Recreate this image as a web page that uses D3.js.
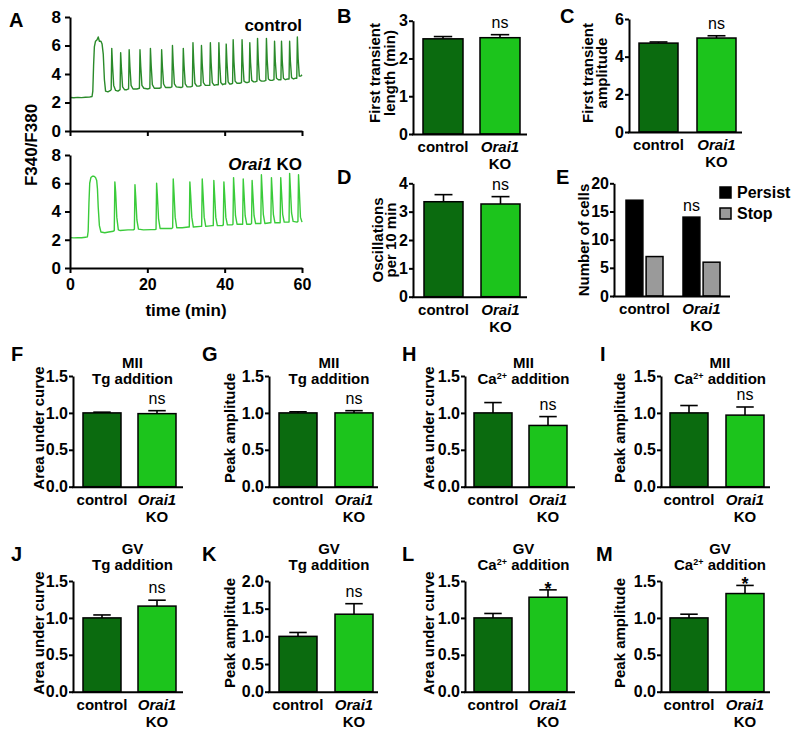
<!DOCTYPE html>
<html><head><meta charset="utf-8">
<script src="https://cdn.jsdelivr.net/npm/d3@7/dist/d3.min.js"></script>
<style>
body{margin:0;background:#fff;}
svg{display:block;font-family:"Liberation Sans",Arial,Helvetica,sans-serif;}
</style></head><body>
<svg id="fig" width="800" height="737"></svg>
<script>
// ---------------- DATA ----------------
const groups = ["control", "Orai1 KO"];
const timeTicks = [0, 20, 40, 60];
const ratioTicks = [0, 2, 4, 6, 8];

const controlTrace = [
[0,2.35],[1,2.33],[2,2.36],[3,2.34],[4,2.37],[5,2.38],[5.7,2.42],[5.9,2.8],[6.1,4.6],[6.3,5.9],[6.6,6.3],[7.0,6.4],[7.3,6.6],[7.6,6.3],[8.0,6.3],[8.3,6.1],[8.6,5.4],[8.9,3.6],[9.2,2.8],[9.8,2.75],[10.5,2.85],
[10.65,2.9],[10.8,5.8],[11.0,4.6],[11.3,3.2],[11.8,2.85],[12.4,2.8],
[12.95,2.9],[13.1,5.5],[13.3,4.4],[13.6,3.1],[14.1,2.9],[14.7,2.9],
[15.15,2.95],[15.3,5.7],[15.5,4.5],[15.8,3.2],[16.3,2.95],[17.3,2.95],
[17.95,3.0],[18.1,5.7],[18.3,4.5],[18.6,3.2],[19.1,3.0],[20.2,2.95],
[20.65,3.0],[20.8,5.8],[21.0,4.6],[21.3,3.25],[21.8,3.0],[23.1,3.0],
[23.55,3.05],[23.7,5.7],[23.9,4.5],[24.2,3.3],[24.7,3.05],[25.9,3.05],
[26.35,3.1],[26.5,6.0],[26.7,4.7],[27.0,3.3],[27.5,3.1],[28.7,3.05],
[29.15,3.1],[29.3,5.8],[29.5,4.6],[29.8,3.3],[30.3,3.1],[31.2,3.1],
[31.65,3.15],[31.8,6.2],[32.0,4.8],[32.3,3.35],[32.8,3.15],[33.4,3.15],
[33.85,3.2],[34.0,6.0],[34.2,4.7],[34.5,3.4],[35.0,3.2],[35.7,3.2],
[36.15,3.2],[36.3,6.2],[36.5,4.8],[36.8,3.4],[37.3,3.2],[37.9,3.25],
[38.35,3.25],[38.5,6.2],[38.7,4.8],[39.0,3.4],[39.5,3.25],[39.9,3.3],
[40.25,3.3],[40.4,6.1],[40.6,4.8],[40.9,3.45],[41.3,3.3],[41.7,3.3],
[42.05,3.35],[42.2,6.4],[42.4,4.9],[42.7,3.5],[43.2,3.35],[43.9,3.35],
[44.35,3.4],[44.5,6.4],[44.7,4.9],[45.0,3.5],[45.5,3.4],[45.9,3.4],
[46.35,3.45],[46.5,6.2],[46.7,4.8],[47.0,3.55],[47.5,3.45],[47.9,3.45],
[48.35,3.5],[48.5,6.5],[48.7,5.0],[49.0,3.6],[49.5,3.5],[50.2,3.5],
[50.65,3.55],[50.8,6.5],[51.0,5.0],[51.3,3.65],[51.8,3.55],[52.3,3.55],
[52.75,3.6],[52.9,6.3],[53.1,4.9],[53.4,3.7],[53.9,3.6],[54.2,3.6],
[54.55,3.6],[54.7,6.3],[54.9,4.9],[55.2,3.7],[55.7,3.6],[56.3,3.65],
[56.65,3.65],[56.8,6.3],[57.0,4.9],[57.3,3.75],[57.8,3.65],[58.2,3.7],
[58.65,3.7],[58.8,6.6],[59.0,5.1],[59.3,3.85],[59.7,3.85],[60,3.95]
];

const koTrace = [
[0,2.15],[1,2.13],[2,2.15],[3,2.14],[4,2.18],[4.5,2.2],[4.7,2.6],[4.9,4.6],[5.1,6.0],[5.4,6.4],[5.8,6.5],[6.2,6.5],[6.6,6.4],[6.9,6.2],[7.1,5.6],[7.3,4.3],[7.6,3.0],[8.0,2.55],[9,2.5],[10,2.55],[11.2,2.6],
[11.45,2.65],[11.6,6.1],[11.8,5.4],[12.1,3.6],[12.5,2.7],[13,2.65],[15,2.7],[16.4,2.7],
[16.65,2.75],[16.8,5.9],[17.0,5.0],[17.3,3.4],[17.7,2.75],[19,2.7],[21,2.72],[22.0,2.72],
[22.25,2.75],[22.4,6.0],[22.6,5.1],[22.9,3.5],[23.3,2.8],[25,2.8],[26.3,2.8],
[26.55,2.85],[26.7,6.3],[26.9,5.3],[27.2,3.6],[27.6,2.85],[29,2.85],[30.6,2.9],
[30.85,2.9],[31.0,6.1],[31.2,5.2],[31.5,3.6],[31.9,2.9],[33.8,2.95],
[34.05,2.95],[34.2,6.3],[34.4,5.3],[34.7,3.6],[35.1,2.95],[36.8,3.0],
[37.05,3.0],[37.2,6.2],[37.4,5.2],[37.7,3.6],[38.1,3.0],[39.4,3.0],
[39.65,3.05],[39.8,6.1],[40.0,5.2],[40.3,3.6],[40.7,3.05],[41.9,3.05],
[42.15,3.1],[42.3,6.4],[42.5,5.4],[42.8,3.7],[43.2,3.1],[44.4,3.1],
[44.65,3.1],[44.8,6.3],[45.0,5.3],[45.3,3.7],[45.7,3.1],[46.7,3.1],
[46.95,3.15],[47.1,6.2],[47.3,5.2],[47.6,3.7],[48.0,3.15],[49.1,3.15],
[49.35,3.15],[49.5,6.6],[49.7,5.5],[50.0,3.8],[50.4,3.15],[51.7,3.2],
[51.95,3.2],[52.1,6.4],[52.3,5.4],[52.6,3.8],[53.0,3.2],[54.1,3.2],
[54.35,3.2],[54.5,6.4],[54.7,5.4],[55.0,3.8],[55.4,3.25],[56.4,3.25],
[56.65,3.25],[56.8,6.7],[57.0,5.6],[57.3,3.9],[57.7,3.3],[58.7,3.25],
[58.95,3.3],[59.1,6.6],[59.3,5.5],[59.6,3.6],[60,3.25]
];

const bMeans = [2.52, 2.55], bErr = [0.06, 0.08], bTicks = [0, 1, 2, 3], bSig = "ns";
const cMeans = [4.72, 4.99], cErr = [0.06, 0.12], cTicks = [0, 2, 4, 6], cSig = "ns";
const dMeans = [3.35, 3.27], dErr = [0.25, 0.26], dTicks = [0, 1, 2, 3, 4], dSig = "ns";
const eSeries = ["Persist", "Stop"];
const ePersist = [17, 14], eStop = [7, 6], eTicks = [0, 5, 10, 15, 20], eSig = "ns";
const fMeans = [1.0, 0.99], fErr = [0.01, 0.04], fSig = "ns";
const gMeans = [1.0, 1.0], gErr = [0.015, 0.03], gSig = "ns";
const hMeans = [1.0, 0.83], hErr = [0.14, 0.12], hSig = "ns";
const iMeans = [1.0, 0.97], iErr = [0.10, 0.11], iSig = "ns";
const jMeans = [1.0, 1.16], jErr = [0.04, 0.08], jSig = "ns";
const kMeans = [1.0, 1.40], kErr = [0.07, 0.19], kSig = "ns";
const lMeans = [1.0, 1.28], lErr = [0.06, 0.10], lSig = "*";
const mMeans = [1.0, 1.33], mErr = [0.05, 0.11], mSig = "*";
const ticks15 = [0, 0.5, 1.0, 1.5];
const ticks20 = [0, 0.5, 1.0, 1.5, 2.0];

// ---------------- STYLE ----------------
const barColors = ["#0b6b0f", "#1cc41c"];
const traceColors = ["#2a8a2a", "#3acb3a"];
const eColors = ["#000000", "#9a9a9a"];

const svg = d3.select("#fig");

function styleAxis(sel, size) {
  sel.select(".domain").attr("stroke", "#000").attr("stroke-width", 2);
  sel.selectAll(".tick line").attr("stroke", "#000").attr("stroke-width", 2);
  sel.selectAll(".tick text").attr("fill", "#000").attr("font-size", size || 16).attr("font-weight", "bold");
}

function letter(t, x, y) {
  svg.append("text").attr("x", x).attr("y", y).attr("font-size", 20).attr("font-weight", "bold").text(t);
}

function rotLabel(lines, xs, cy) {
  lines.forEach((l, i) => {
    svg.append("text").attr("transform", `translate(${xs[i]},${cy}) rotate(-90)`)
      .attr("text-anchor", "middle").attr("font-size", 15).attr("font-weight", "bold").text(l);
  });
}

function catLabels(x0, x1, y0) {
  svg.append("text").attr("x", x0).attr("y", y0 + 18).attr("text-anchor", "middle")
    .attr("font-size", 15).attr("font-weight", "bold").text(groups[0]);
  const parts = groups[1].split(" ");
  svg.append("text").attr("x", x1).attr("y", y0 + 18).attr("text-anchor", "middle")
    .attr("font-size", 15).attr("font-weight", "bold").attr("font-style", "italic").text(parts[0]);
  svg.append("text").attr("x", x1).attr("y", y0 + 35).attr("text-anchor", "middle")
    .attr("font-size", 15).attr("font-weight", "bold").text(parts[1]);
}

function titleLines(lines, cx, ys) {
  lines.forEach((l, i) => {
    const t = svg.append("text").attr("x", cx).attr("y", ys[i]).attr("text-anchor", "middle")
      .attr("font-size", 15).attr("font-weight", "bold");
    if (l.startsWith("Ca2+")) {
      t.append("tspan").text("Ca");
      t.append("tspan").attr("font-size", 9).attr("dy", -5).text("2+");
      t.append("tspan").attr("dy", 5).text(" addition");
    } else t.text(l);
  });
}

// ---------------- PANEL A ----------------
(function () {
  const x = d3.scaleLinear().domain([0, 60]).range([70, 302]);
  const subs = [
    { data: controlTrace, y0: 131, yTop: 17, color: traceColors[0], label: ["control"], ly: 31, showLabels: false },
    { data: koTrace, y0: 268, yTop: 155, color: traceColors[1], label: ["Orai1", "KO"], ly: 170, showLabels: true }
  ];
  subs.forEach(s => {
    const y = d3.scaleLinear().domain([0, 8]).range([s.y0, s.yTop]);
    svg.append("path").datum(s.data)
      .attr("d", d3.line().x(d => x(d[0])).y(d => y(d[1])))
      .attr("fill", "none").attr("stroke", s.color).attr("stroke-width", 1.4).attr("stroke-linejoin", "round");
    const ya = svg.append("g").attr("transform", "translate(70,0)")
      .call(d3.axisLeft(y).tickValues(ratioTicks).tickSize(5).tickSizeOuter(0).tickPadding(4).tickFormat(d3.format("d")));
    styleAxis(ya, 17);
    const xa = svg.append("g").attr("transform", `translate(0,${s.y0})`)
      .call(d3.axisBottom(x).tickValues(timeTicks).tickSize(5).tickSizeOuter(0).tickPadding(6)
        .tickFormat(s.showLabels ? d3.format("d") : () => ""));
    styleAxis(xa, 16);
    const t = svg.append("text").attr("x", 302).attr("y", s.ly).attr("text-anchor", "end")
      .attr("font-size", 17).attr("font-weight", "bold");
    if (s.label.length === 1) t.text(s.label[0]);
    else {
      t.append("tspan").attr("font-style", "italic").text(s.label[0]);
      t.append("tspan").text(" " + s.label[1]);
    }
  });
  svg.append("text").attr("x", 186).attr("y", 316).attr("text-anchor", "middle")
    .attr("font-size", 17).attr("font-weight", "bold").text("time (min)");
  svg.append("text").attr("transform", "translate(37,145) rotate(-90)").attr("text-anchor", "middle")
    .attr("font-size", 17).attr("font-weight", "bold").text("F340/F380");
  letter("A", 9, 27);
})();

// ---------------- BAR PANELS ----------------
function barPanel(p) {
  const x = d3.scaleBand().domain(groups)
    .range([p.bar0, p.bar0 + p.step + p.bw]).paddingInner((p.step - p.bw) / p.step).paddingOuter(0);
  const y = d3.scaleLinear().domain([0, p.max]).range([p.y0, p.yTop]);
  const g = svg.append("g");
  const bw = x.bandwidth();
  groups.forEach((d, i) => {
    const cx = x(d) + bw / 2;
    g.append("line").attr("x1", cx).attr("x2", cx).attr("y1", y(p.means[i])).attr("y2", y(p.means[i] + p.err[i]))
      .attr("stroke", "#000").attr("stroke-width", 1.6);
    g.append("line").attr("x1", cx - bw * 0.23).attr("x2", cx + bw * 0.23)
      .attr("y1", y(p.means[i] + p.err[i])).attr("y2", y(p.means[i] + p.err[i]))
      .attr("stroke", "#000").attr("stroke-width", 1.6);
  });
  g.selectAll("rect.bar").data(groups).join("rect").attr("class", "bar")
    .attr("x", d => x(d)).attr("width", bw)
    .attr("y", (d, i) => y(p.means[i])).attr("height", (d, i) => y(0) - y(p.means[i]))
    .attr("fill", (d, i) => barColors[i]).attr("stroke", "#000").attr("stroke-width", 1.5);
  const ya = svg.append("g").attr("transform", `translate(${p.axisX},0)`)
    .call(d3.axisLeft(y).tickValues(p.ticks).tickSize(4).tickSizeOuter(0).tickPadding(1).tickFormat(d3.format(p.fmt)));
  styleAxis(ya, 16);
  svg.append("line").attr("x1", p.axisX - 1).attr("x2", p.end).attr("y1", p.y0 + 0.5).attr("y2", p.y0 + 0.5)
    .attr("stroke", "#000").attr("stroke-width", 2);
  catLabels(x(groups[0]) + bw / 2, x(groups[1]) + bw / 2, p.y0);
  const top = y(p.means[1] + p.err[1]);
  const sx = x(groups[1]) + bw / 2;
  if (p.sig === "*") {
    svg.append("text").attr("x", sx).attr("y", top + 5).attr("text-anchor", "middle")
      .attr("font-size", 18).attr("font-weight", "bold").text(p.sig);
  } else {
    svg.append("text").attr("x", sx).attr("y", top - 7).attr("text-anchor", "middle")
      .attr("font-size", 16).text(p.sig);
  }
  if (p.title) titleLines(p.title, (x(groups[0]) + x(groups[1]) + bw) / 2 + 3, p.titleY);
  rotLabel(p.ylab, p.ylabX, p.ylabY);
  letter(p.letter, p.lx, p.ly);
}

const panels = [
  { letter: "B", lx: 337, ly: 23, means: bMeans, err: bErr, sig: bSig, ticks: bTicks, max: 3, fmt: "d",
    axisX: 413, bar0: 423, bw: 40, step: 57, end: 527, yTop: 20.7, y0: 134,
    ylab: ["First transient", "length (min)"], ylabX: [380, 395], ylabY: 73 },
  { letter: "C", lx: 560, ly: 23, means: cMeans, err: cErr, sig: cSig, ticks: cTicks, max: 6, fmt: "d",
    axisX: 629, bar0: 639, bw: 39, step: 58, end: 742, yTop: 19, y0: 132,
    ylab: ["First transient", "amplitude"], ylabX: [593, 607], ylabY: 73 },
  { letter: "D", lx: 337, ly: 184, means: dMeans, err: dErr, sig: dSig, ticks: dTicks, max: 4, fmt: "d",
    axisX: 413, bar0: 424, bw: 39, step: 57, end: 527, yTop: 183.3, y0: 296.7,
    ylab: ["Oscillations", "per 10 min"], ylabX: [383, 396], ylabY: 240 },
  { letter: "F", lx: 11, ly: 361, means: fMeans, err: fErr, sig: fSig, ticks: ticks15, max: 1.5, fmt: ".1f",
    axisX: 73, bar0: 83, bw: 38, step: 55, end: 183, yTop: 376, y0: 486.7,
    ylab: ["Area under curve"], ylabX: [44], ylabY: 428, title: ["MII", "Tg addition"], titleY: [368, 384] },
  { letter: "G", lx: 202, ly: 361, means: gMeans, err: gErr, sig: gSig, ticks: ticks15, max: 1.5, fmt: ".1f",
    axisX: 269, bar0: 279, bw: 38, step: 56, end: 378, yTop: 376, y0: 486.7,
    ylab: ["Peak amplitude"], ylabX: [235], ylabY: 428, title: ["MII", "Tg addition"], titleY: [368, 384] },
  { letter: "H", lx: 402, ly: 361, means: hMeans, err: hErr, sig: hSig, ticks: ticks15, max: 1.5, fmt: ".1f",
    axisX: 465, bar0: 474, bw: 38, step: 55, end: 575, yTop: 376, y0: 486.7,
    ylab: ["Area under curve"], ylabX: [434], ylabY: 428, title: ["MII", "Ca2+ addition"], titleY: [368, 384] },
  { letter: "I", lx: 600, ly: 361, means: iMeans, err: iErr, sig: iSig, ticks: ticks15, max: 1.5, fmt: ".1f",
    axisX: 661, bar0: 670, bw: 38, step: 56, end: 770, yTop: 376, y0: 486.7,
    ylab: ["Peak amplitude"], ylabX: [625], ylabY: 428, title: ["MII", "Ca2+ addition"], titleY: [368, 384] },
  { letter: "J", lx: 11, ly: 561, means: jMeans, err: jErr, sig: jSig, ticks: ticks15, max: 1.5, fmt: ".1f",
    axisX: 73, bar0: 83, bw: 38, step: 55, end: 183, yTop: 581, y0: 691.7,
    ylab: ["Area under curve"], ylabX: [44], ylabY: 633, title: ["GV", "Tg addition"], titleY: [554, 570] },
  { letter: "K", lx: 202, ly: 561, means: kMeans, err: kErr, sig: kSig, ticks: ticks20, max: 2.0, fmt: ".1f",
    axisX: 269, bar0: 279, bw: 38, step: 56, end: 378, yTop: 581, y0: 691.7,
    ylab: ["Peak amplitude"], ylabX: [235], ylabY: 633, title: ["GV", "Tg addition"], titleY: [554, 570] },
  { letter: "L", lx: 402, ly: 561, means: lMeans, err: lErr, sig: lSig, ticks: ticks15, max: 1.5, fmt: ".1f",
    axisX: 465, bar0: 474, bw: 38, step: 55, end: 575, yTop: 581, y0: 691.7,
    ylab: ["Area under curve"], ylabX: [434], ylabY: 633, title: ["GV", "Ca2+ addition"], titleY: [554, 570] },
  { letter: "M", lx: 596, ly: 561, means: mMeans, err: mErr, sig: mSig, ticks: ticks15, max: 1.5, fmt: ".1f",
    axisX: 661, bar0: 670, bw: 38, step: 56, end: 770, yTop: 581, y0: 691.7,
    ylab: ["Peak amplitude"], ylabX: [625], ylabY: 633, title: ["GV", "Ca2+ addition"], titleY: [554, 570] }
];
panels.forEach(barPanel);

// ---------------- PANEL E ----------------
(function () {
  const axisX = 614, y0 = 296, yTop = 183.3;
  const x = d3.scaleBand().domain(groups).range([626, 626 + 57 + 37]).paddingInner(20 / 57).paddingOuter(0);
  const xs = d3.scaleBand().domain(eSeries).range([0, x.bandwidth()]).paddingInner(0.16);
  const y = d3.scaleLinear().domain([0, 20]).range([y0, yTop]);
  const vals = { Persist: ePersist, Stop: eStop };
  groups.forEach((gname, gi) => {
    eSeries.forEach((s, si) => {
      svg.append("rect").attr("x", x(gname) + xs(s)).attr("width", xs.bandwidth())
        .attr("y", y(vals[s][gi])).attr("height", y(0) - y(vals[s][gi]))
        .attr("fill", eColors[si]).attr("stroke", "#000").attr("stroke-width", 1.5);
    });
  });
  const ya = svg.append("g").attr("transform", `translate(${axisX},0)`)
    .call(d3.axisLeft(y).tickValues(eTicks).tickSize(4).tickSizeOuter(0).tickPadding(1).tickFormat(d3.format("d")));
  styleAxis(ya, 16);
  svg.append("line").attr("x1", axisX - 1).attr("x2", 730).attr("y1", y0 + 0.5).attr("y2", y0 + 0.5)
    .attr("stroke", "#000").attr("stroke-width", 2);
  catLabels(x(groups[0]) + x.bandwidth() / 2, x(groups[1]) + x.bandwidth() / 2, y0);
  svg.append("text").attr("x", x(groups[1]) + xs("Persist") + xs.bandwidth() / 2)
    .attr("y", y(ePersist[1]) - 6).attr("text-anchor", "middle").attr("font-size", 16).text(eSig);
  eSeries.forEach((s, i) => {
    svg.append("rect").attr("x", 720).attr("y", 187 + i * 21).attr("width", 11).attr("height", 11)
      .attr("fill", eColors[i]).attr("stroke", "#000").attr("stroke-width", 1.5);
    svg.append("text").attr("x", 737).attr("y", 198 + i * 21).attr("font-size", 16).attr("font-weight", "bold").text(s);
  });
  rotLabel(["Number of cells"], [589], 240);
  letter("E", 556, 184);
})();
</script>
</body></html>
